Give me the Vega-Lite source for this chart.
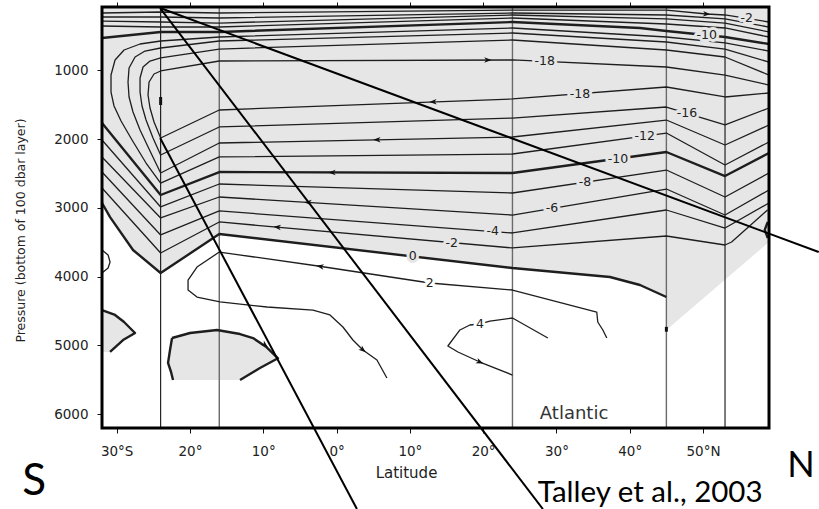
{
  "$schema": "https://vega.github.io/schema/vega-lite/v6.json",
  "width": 667,
  "height": 421,
  "autosize": {"type": "none"},
  "padding": {"left": 102, "top": 7, "right": 50, "bottom": 81},
  "background": "white",
  "config": {
    "view": {"stroke": null},
    "font": "DejaVu Sans"
  },
  "datasets": {
    "shade": [
      {"id": "main", "i": 0, "lat": -32, "p": 80}, {"id": "main", "i": 1, "lat": 59, "p": 80},
      {"id": "main", "i": 2, "lat": 59, "p": 3496}, {"id": "main", "i": 3, "lat": 45, "p": 4775},
      {"id": "main", "i": 4, "lat": 45, "p": 4296}, {"id": "main", "i": 5, "lat": 41.4, "p": 4121},
      {"id": "main", "i": 6, "lat": 37.3, "p": 4005}, {"id": "main", "i": 7, "lat": 24, "p": 3874},
      {"id": "main", "i": 8, "lat": -16, "p": 3380}, {"id": "main", "i": 9, "lat": -24, "p": 3947},
      {"id": "main", "i": 10, "lat": -27.77, "p": 3612}, {"id": "main", "i": 11, "lat": -30.9, "p": 3134},
      {"id": "main", "i": 12, "lat": -32, "p": 2929},
      {"id": "isl1", "i": 0, "lat": -32, "p": 4485}, {"id": "isl1", "i": 1, "lat": -30.22, "p": 4557},
      {"id": "isl1", "i": 2, "lat": -28.99, "p": 4659}, {"id": "isl1", "i": 3, "lat": -27.77, "p": 4790},
      {"id": "isl1", "i": 4, "lat": -27.49, "p": 4819}, {"id": "isl1", "i": 5, "lat": -29.13, "p": 4921},
      {"id": "isl1", "i": 6, "lat": -30.9, "p": 5095}, {"id": "isl1", "i": 7, "lat": -32, "p": 5095},
      {"id": "isl2", "i": 0, "lat": -22.44, "p": 4892}, {"id": "isl2", "i": 1, "lat": -19.99, "p": 4819},
      {"id": "isl2", "i": 2, "lat": -16.31, "p": 4775}, {"id": "isl2", "i": 3, "lat": -13.17, "p": 4834},
      {"id": "isl2", "i": 4, "lat": -11.4, "p": 4892}, {"id": "isl2", "i": 5, "lat": -9.63, "p": 5018},
      {"id": "isl2", "i": 6, "lat": -7.99, "p": 5187}, {"id": "isl2", "i": 7, "lat": -10.45, "p": 5328},
      {"id": "isl2", "i": 8, "lat": -13.17, "p": 5502}, {"id": "isl2", "i": 9, "lat": -22.31, "p": 5502},
      {"id": "isl2", "i": 10, "lat": -22.58, "p": 5386}, {"id": "isl2", "i": 11, "lat": -22.99, "p": 5255},
      {"id": "isl2", "i": 12, "lat": -22.72, "p": 5066}
    ],
    "sections": [{"lat": -24}, {"lat": -16}, {"lat": 24}, {"lat": 45}, {"lat": 53}],
    "contours": [
      {"id": "m2u", "v": -2, "i": 0, "lat": -32, "p": 167}, {"id": "m2u", "v": -2, "i": 1, "lat": -24, "p": 153},
      {"id": "m2u", "v": -2, "i": 2, "lat": -16, "p": 167}, {"id": "m2u", "v": -2, "i": 3, "lat": 24, "p": 124},
      {"id": "m2u", "v": -2, "i": 4, "lat": 45, "p": 124}, {"id": "m2u", "v": -2, "i": 5, "lat": 50.5, "p": 182},
      {"id": "m2u", "v": -2, "i": 6, "lat": 53, "p": 196}, {"id": "m2u", "v": -2, "i": 7, "lat": 59, "p": 298},

      {"id": "m4u", "v": -4, "i": 0, "lat": -32, "p": 225}, {"id": "m4u", "v": -4, "i": 1, "lat": -24, "p": 225},
      {"id": "m4u", "v": -4, "i": 2, "lat": -16, "p": 240}, {"id": "m4u", "v": -4, "i": 3, "lat": 24, "p": 167},
      {"id": "m4u", "v": -4, "i": 4, "lat": 45, "p": 196}, {"id": "m4u", "v": -4, "i": 5, "lat": 53, "p": 254},
      {"id": "m4u", "v": -4, "i": 6, "lat": 59, "p": 371},

      {"id": "m6u", "v": -6, "i": 0, "lat": -32, "p": 284}, {"id": "m6u", "v": -6, "i": 1, "lat": -24, "p": 298},
      {"id": "m6u", "v": -6, "i": 2, "lat": -16, "p": 313}, {"id": "m6u", "v": -6, "i": 3, "lat": 24, "p": 196},
      {"id": "m6u", "v": -6, "i": 4, "lat": 45, "p": 254}, {"id": "m6u", "v": -6, "i": 5, "lat": 53, "p": 313},
      {"id": "m6u", "v": -6, "i": 6, "lat": 59, "p": 443},

      {"id": "m8u", "v": -8, "i": 0, "lat": -32, "p": 356}, {"id": "m8u", "v": -8, "i": 1, "lat": -24, "p": 371},
      {"id": "m8u", "v": -8, "i": 2, "lat": -16, "p": 371}, {"id": "m8u", "v": -8, "i": 3, "lat": 24, "p": 240},
      {"id": "m8u", "v": -8, "i": 4, "lat": 45, "p": 327}, {"id": "m8u", "v": -8, "i": 5, "lat": 53, "p": 385},
      {"id": "m8u", "v": -8, "i": 6, "lat": 59, "p": 516},

      {"id": "m10u", "v": -10, "i": 0, "lat": -32, "p": 531}, {"id": "m10u", "v": -10, "i": 1, "lat": -24, "p": 443},
      {"id": "m10u", "v": -10, "i": 2, "lat": -16, "p": 443}, {"id": "m10u", "v": -10, "i": 3, "lat": 24, "p": 298},
      {"id": "m10u", "v": -10, "i": 4, "lat": 41.4, "p": 385}, {"id": "m10u", "v": -10, "i": 5, "lat": 45, "p": 429},
      {"id": "m10u", "v": -10, "i": 6, "lat": 53, "p": 516}, {"id": "m10u", "v": -10, "i": 7, "lat": 59, "p": 618},

      {"id": "m12", "v": -12, "i": 0, "lat": 59, "p": 720}, {"id": "m12", "v": -12, "i": 1, "lat": 53, "p": 603},
      {"id": "m12", "v": -12, "i": 2, "lat": 45, "p": 516}, {"id": "m12", "v": -12, "i": 3, "lat": 24, "p": 385},
      {"id": "m12", "v": -12, "i": 4, "lat": -16, "p": 516}, {"id": "m12", "v": -12, "i": 5, "lat": -24, "p": 574},
      {"id": "m12", "v": -12, "i": 6, "lat": -26.81, "p": 618}, {"id": "m12", "v": -12, "i": 7, "lat": -28.99, "p": 705},
      {"id": "m12", "v": -12, "i": 8, "lat": -30.22, "p": 850}, {"id": "m12", "v": -12, "i": 9, "lat": -30.77, "p": 1069},
      {"id": "m12", "v": -12, "i": 10, "lat": -30.77, "p": 1316}, {"id": "m12", "v": -12, "i": 11, "lat": -30.36, "p": 1519},
      {"id": "m12", "v": -12, "i": 12, "lat": -29.4, "p": 1737}, {"id": "m12", "v": -12, "i": 13, "lat": -27.9, "p": 2013},
      {"id": "m12", "v": -12, "i": 14, "lat": -25.99, "p": 2348}, {"id": "m12", "v": -12, "i": 15, "lat": -24, "p": 2639},
      {"id": "m12", "v": -12, "i": 16, "lat": -16, "p": 2260}, {"id": "m12", "v": -12, "i": 17, "lat": 24, "p": 2217},
      {"id": "m12", "v": -12, "i": 18, "lat": 45, "p": 1912}, {"id": "m12", "v": -12, "i": 19, "lat": 53, "p": 2377},
      {"id": "m12", "v": -12, "i": 20, "lat": 59, "p": 2042},

      {"id": "m14", "v": -14, "i": 0, "lat": 59, "p": 880}, {"id": "m14", "v": -14, "i": 1, "lat": 53, "p": 691},
      {"id": "m14", "v": -14, "i": 2, "lat": 45, "p": 589}, {"id": "m14", "v": -14, "i": 3, "lat": 24, "p": 458},
      {"id": "m14", "v": -14, "i": 4, "lat": -16, "p": 574}, {"id": "m14", "v": -14, "i": 5, "lat": -24, "p": 676},
      {"id": "m14", "v": -14, "i": 6, "lat": -26.13, "p": 720}, {"id": "m14", "v": -14, "i": 7, "lat": -27.49, "p": 807},
      {"id": "m14", "v": -14, "i": 8, "lat": -28.31, "p": 967}, {"id": "m14", "v": -14, "i": 9, "lat": -28.45, "p": 1170},
      {"id": "m14", "v": -14, "i": 10, "lat": -28.31, "p": 1388}, {"id": "m14", "v": -14, "i": 11, "lat": -27.77, "p": 1606},
      {"id": "m14", "v": -14, "i": 12, "lat": -26.81, "p": 1868}, {"id": "m14", "v": -14, "i": 13, "lat": -25.45, "p": 2173},
      {"id": "m14", "v": -14, "i": 14, "lat": -24, "p": 2493}, {"id": "m14", "v": -14, "i": 15, "lat": -16, "p": 2057},
      {"id": "m14", "v": -14, "i": 16, "lat": 24, "p": 1970}, {"id": "m14", "v": -14, "i": 17, "lat": 45, "p": 1723},
      {"id": "m14", "v": -14, "i": 18, "lat": 53, "p": 2086}, {"id": "m14", "v": -14, "i": 19, "lat": 59, "p": 1795},

      {"id": "m16", "v": -16, "i": 0, "lat": 59, "p": 1069}, {"id": "m16", "v": -16, "i": 1, "lat": 53, "p": 807},
      {"id": "m16", "v": -16, "i": 2, "lat": 45, "p": 705}, {"id": "m16", "v": -16, "i": 3, "lat": 24, "p": 560},
      {"id": "m16", "v": -16, "i": 4, "lat": -16, "p": 691}, {"id": "m16", "v": -16, "i": 5, "lat": -24, "p": 821},
      {"id": "m16", "v": -16, "i": 6, "lat": -25.45, "p": 865}, {"id": "m16", "v": -16, "i": 7, "lat": -26.4, "p": 952},
      {"id": "m16", "v": -16, "i": 8, "lat": -26.81, "p": 1112}, {"id": "m16", "v": -16, "i": 9, "lat": -26.81, "p": 1316},
      {"id": "m16", "v": -16, "i": 10, "lat": -26.54, "p": 1519}, {"id": "m16", "v": -16, "i": 11, "lat": -25.99, "p": 1723},
      {"id": "m16", "v": -16, "i": 12, "lat": -25.04, "p": 1984}, {"id": "m16", "v": -16, "i": 13, "lat": -24, "p": 2231},
      {"id": "m16", "v": -16, "i": 14, "lat": -16, "p": 1824}, {"id": "m16", "v": -16, "i": 15, "lat": 24, "p": 1694},
      {"id": "m16", "v": -16, "i": 16, "lat": 45, "p": 1534}, {"id": "m16", "v": -16, "i": 17, "lat": 53, "p": 1795},
      {"id": "m16", "v": -16, "i": 18, "lat": 59, "p": 1548},

      {"id": "m18", "v": -18, "i": 0, "lat": 59, "p": 1214}, {"id": "m18", "v": -18, "i": 1, "lat": 53, "p": 1069},
      {"id": "m18", "v": -18, "i": 2, "lat": 45, "p": 952}, {"id": "m18", "v": -18, "i": 3, "lat": 24, "p": 850},
      {"id": "m18", "v": -18, "i": 4, "lat": -16, "p": 865}, {"id": "m18", "v": -18, "i": 5, "lat": -24, "p": 1010},
      {"id": "m18", "v": -18, "i": 6, "lat": -24.9, "p": 1054}, {"id": "m18", "v": -18, "i": 7, "lat": -25.58, "p": 1170},
      {"id": "m18", "v": -18, "i": 8, "lat": -25.72, "p": 1359}, {"id": "m18", "v": -18, "i": 9, "lat": -25.45, "p": 1548},
      {"id": "m18", "v": -18, "i": 10, "lat": -24.9, "p": 1752}, {"id": "m18", "v": -18, "i": 11, "lat": -24, "p": 1984},
      {"id": "m18", "v": -18, "i": 12, "lat": -16, "p": 1577}, {"id": "m18", "v": -18, "i": 13, "lat": 24, "p": 1417},
      {"id": "m18", "v": -18, "i": 14, "lat": 45, "p": 1243}, {"id": "m18", "v": -18, "i": 15, "lat": 53, "p": 1388},
      {"id": "m18", "v": -18, "i": 16, "lat": 59, "p": 1330},

      {"id": "m10l", "v": -10, "i": 0, "lat": -32, "p": 1766}, {"id": "m10l", "v": -10, "i": 1, "lat": -24, "p": 2813},
      {"id": "m10l", "v": -10, "i": 2, "lat": -16, "p": 2479}, {"id": "m10l", "v": -10, "i": 3, "lat": 24, "p": 2493},
      {"id": "m10l", "v": -10, "i": 4, "lat": 45, "p": 2188}, {"id": "m10l", "v": -10, "i": 5, "lat": 53, "p": 2537},
      {"id": "m10l", "v": -10, "i": 6, "lat": 59, "p": 2202},

      {"id": "m8l", "v": -8, "i": 0, "lat": -32, "p": 2013}, {"id": "m8l", "v": -8, "i": 1, "lat": -24, "p": 2987},
      {"id": "m8l", "v": -8, "i": 2, "lat": -16, "p": 2653}, {"id": "m8l", "v": -8, "i": 3, "lat": 24, "p": 2784},
      {"id": "m8l", "v": -8, "i": 4, "lat": 45, "p": 2450}, {"id": "m8l", "v": -8, "i": 5, "lat": 53, "p": 2842},
      {"id": "m8l", "v": -8, "i": 6, "lat": 59, "p": 2493},

      {"id": "m6l", "v": -6, "i": 0, "lat": -32, "p": 2261}, {"id": "m6l", "v": -6, "i": 1, "lat": -24, "p": 3147},
      {"id": "m6l", "v": -6, "i": 2, "lat": -16, "p": 2842}, {"id": "m6l", "v": -6, "i": 3, "lat": 24, "p": 3104},
      {"id": "m6l", "v": -6, "i": 4, "lat": 45, "p": 2726}, {"id": "m6l", "v": -6, "i": 5, "lat": 53, "p": 3104},
      {"id": "m6l", "v": -6, "i": 6, "lat": 59, "p": 2740},

      {"id": "m4l", "v": -4, "i": 0, "lat": -32, "p": 2479}, {"id": "m4l", "v": -4, "i": 1, "lat": -24, "p": 3394},
      {"id": "m4l", "v": -4, "i": 2, "lat": -16, "p": 3045}, {"id": "m4l", "v": -4, "i": 3, "lat": 24, "p": 3365},
      {"id": "m4l", "v": -4, "i": 4, "lat": 45, "p": 3031}, {"id": "m4l", "v": -4, "i": 5, "lat": 53, "p": 3293},
      {"id": "m4l", "v": -4, "i": 6, "lat": 59, "p": 2929},

      {"id": "m2l", "v": -2, "i": 0, "lat": -32, "p": 2711}, {"id": "m2l", "v": -2, "i": 1, "lat": -24, "p": 3656},
      {"id": "m2l", "v": -2, "i": 2, "lat": -16, "p": 3205}, {"id": "m2l", "v": -2, "i": 3, "lat": 24, "p": 3583},
      {"id": "m2l", "v": -2, "i": 4, "lat": 45, "p": 3409}, {"id": "m2l", "v": -2, "i": 5, "lat": 53, "p": 3540},
      {"id": "m2l", "v": -2, "i": 6, "lat": 53.9, "p": 3496}, {"id": "m2l", "v": -2, "i": 7, "lat": 58.8, "p": 3031},

      {"id": "z0", "v": 0, "i": 0, "lat": -32, "p": 2929}, {"id": "z0", "v": 0, "i": 1, "lat": -30.9, "p": 3134},
      {"id": "z0", "v": 0, "i": 2, "lat": -27.77, "p": 3612}, {"id": "z0", "v": 0, "i": 3, "lat": -24, "p": 3947},
      {"id": "z0", "v": 0, "i": 4, "lat": -16, "p": 3380}, {"id": "z0", "v": 0, "i": 5, "lat": 24, "p": 3874},
      {"id": "z0", "v": 0, "i": 6, "lat": 37.3, "p": 4005}, {"id": "z0", "v": 0, "i": 7, "lat": 41.4, "p": 4121},
      {"id": "z0", "v": 0, "i": 8, "lat": 45, "p": 4296},

      {"id": "z0a", "v": 0, "i": 0, "lat": -32, "p": 4485}, {"id": "z0a", "v": 0, "i": 1, "lat": -30.22, "p": 4557},
      {"id": "z0a", "v": 0, "i": 2, "lat": -28.99, "p": 4659}, {"id": "z0a", "v": 0, "i": 3, "lat": -27.77, "p": 4790},
      {"id": "z0a", "v": 0, "i": 4, "lat": -27.49, "p": 4819}, {"id": "z0a", "v": 0, "i": 5, "lat": -29.13, "p": 4921},
      {"id": "z0a", "v": 0, "i": 6, "lat": -30.9, "p": 5095},

      {"id": "z0b", "v": 0, "i": 0, "lat": -22.44, "p": 4892}, {"id": "z0b", "v": 0, "i": 1, "lat": -19.99, "p": 4819},
      {"id": "z0b", "v": 0, "i": 2, "lat": -16.31, "p": 4775}, {"id": "z0b", "v": 0, "i": 3, "lat": -13.17, "p": 4834},
      {"id": "z0b", "v": 0, "i": 4, "lat": -11.4, "p": 4892}, {"id": "z0b", "v": 0, "i": 5, "lat": -9.63, "p": 5018},
      {"id": "z0b", "v": 0, "i": 6, "lat": -7.99, "p": 5187}, {"id": "z0b", "v": 0, "i": 7, "lat": -10.45, "p": 5328},
      {"id": "z0b", "v": 0, "i": 8, "lat": -13.17, "p": 5502},

      {"id": "z0c", "v": 0, "i": 0, "lat": -22.44, "p": 4892}, {"id": "z0c", "v": 0, "i": 1, "lat": -22.72, "p": 5066},
      {"id": "z0c", "v": 0, "i": 2, "lat": -22.99, "p": 5255}, {"id": "z0c", "v": 0, "i": 3, "lat": -22.58, "p": 5386},
      {"id": "z0c", "v": 0, "i": 4, "lat": -22.31, "p": 5502},

      {"id": "z0d", "v": 0, "i": 0, "lat": 58.83, "p": 3205}, {"id": "z0d", "v": 0, "i": 1, "lat": 58.42, "p": 3321},
      {"id": "z0d", "v": 0, "i": 2, "lat": 58.83, "p": 3438},

      {"id": "p2a", "v": 2, "i": 0, "lat": 36.87, "p": 4892}, {"id": "p2a", "v": 2, "i": 1, "lat": 36.33, "p": 4775},
      {"id": "p2a", "v": 2, "i": 2, "lat": 35.64, "p": 4659}, {"id": "p2a", "v": 2, "i": 3, "lat": 35.5, "p": 4514},
      {"id": "p2a", "v": 2, "i": 4, "lat": 24, "p": 4194}, {"id": "p2a", "v": 2, "i": 5, "lat": 12.73, "p": 4092},
      {"id": "p2a", "v": 2, "i": 6, "lat": -2.54, "p": 3845}, {"id": "p2a", "v": 2, "i": 7, "lat": -16, "p": 3642},
      {"id": "p2a", "v": 2, "i": 8, "lat": -19.04, "p": 3860}, {"id": "p2a", "v": 2, "i": 9, "lat": -20.26, "p": 4049},
      {"id": "p2a", "v": 2, "i": 10, "lat": -20.26, "p": 4194}, {"id": "p2a", "v": 2, "i": 11, "lat": -19.04, "p": 4296},
      {"id": "p2a", "v": 2, "i": 12, "lat": -15.9, "p": 4368}, {"id": "p2a", "v": 2, "i": 13, "lat": -9.49, "p": 4441},
      {"id": "p2a", "v": 2, "i": 14, "lat": -3.22, "p": 4485}, {"id": "p2a", "v": 2, "i": 15, "lat": -0.9, "p": 4557},
      {"id": "p2a", "v": 2, "i": 16, "lat": 0.87, "p": 4732}, {"id": "p2a", "v": 2, "i": 17, "lat": 2.23, "p": 4921},
      {"id": "p2a", "v": 2, "i": 18, "lat": 3.6, "p": 5066}, {"id": "p2a", "v": 2, "i": 19, "lat": 5.51, "p": 5212},
      {"id": "p2a", "v": 2, "i": 20, "lat": 6.87, "p": 5473},

      {"id": "p2b", "v": 2, "i": 0, "lat": -32, "p": 3612}, {"id": "p2b", "v": 2, "i": 1, "lat": -31.17, "p": 3685},
      {"id": "p2b", "v": 2, "i": 2, "lat": -30.9, "p": 3787}, {"id": "p2b", "v": 2, "i": 3, "lat": -31.17, "p": 3874},
      {"id": "p2b", "v": 2, "i": 4, "lat": -32, "p": 3947},

      {"id": "p4", "v": 4, "i": 0, "lat": 28.83, "p": 4892}, {"id": "p4", "v": 4, "i": 1, "lat": 24, "p": 4601},
      {"id": "p4", "v": 4, "i": 2, "lat": 20.92, "p": 4645}, {"id": "p4", "v": 4, "i": 3, "lat": 19.56, "p": 4688},
      {"id": "p4", "v": 4, "i": 4, "lat": 18.19, "p": 4703}, {"id": "p4", "v": 4, "i": 5, "lat": 16.83, "p": 4775},
      {"id": "p4", "v": 4, "i": 6, "lat": 15.19, "p": 5008}, {"id": "p4", "v": 4, "i": 7, "lat": 16.56, "p": 5095},
      {"id": "p4", "v": 4, "i": 8, "lat": 19.56, "p": 5241}, {"id": "p4", "v": 4, "i": 9, "lat": 24, "p": 5430}
    ],
    "arrows": [
      {"lat": 20.65, "p": 851, "dir": 0},
      {"lat": 13.15, "p": 1460, "dir": 178},
      {"lat": 5.5, "p": 2010, "dir": 179},
      {"lat": -0.63, "p": 2485, "dir": 180},
      {"lat": -3.9, "p": 2921, "dir": 183},
      {"lat": -8.1, "p": 3280, "dir": 185},
      {"lat": -2.25, "p": 3850, "dir": 189},
      {"lat": 50.5, "p": 182, "dir": 5},
      {"lat": -9.76, "p": 4993, "dir": 39},
      {"lat": 3.6, "p": 5066, "dir": 40},
      {"lat": 19.56, "p": 5241, "dir": 23}
    ],
    "labels": [
      {"lat": 55.96, "p": 240, "v": -2},
      {"lat": 50.5, "p": 489, "v": -10},
      {"lat": 28.4, "p": 871, "v": -18},
      {"lat": 33.2, "p": 1345, "v": -18},
      {"lat": 47.8, "p": 1625, "v": -16},
      {"lat": 42.05, "p": 1955, "v": -12},
      {"lat": 38.4, "p": 2284, "v": -10},
      {"lat": 33.9, "p": 2627, "v": -8},
      {"lat": 29.4, "p": 3007, "v": -6},
      {"lat": 21.3, "p": 3343, "v": -4},
      {"lat": 15.7, "p": 3505, "v": -2},
      {"lat": 10.4, "p": 3706, "v": 0},
      {"lat": 12.7, "p": 4092, "v": 2},
      {"lat": 19.56, "p": 4688, "v": 4}
    ],
    "dashes": [
      {"lat": -24, "p": 1388, "p2": 1505},
      {"lat": 45, "p": 4730, "p2": 4800}
    ],
    "pointers": [
      {"id": "g1", "i": 0, "lat": -24.07, "p": 95}, {"id": "g1", "i": 1, "lat": 65.78, "p": 3642},
      {"id": "g2", "i": 0, "lat": -24.07, "p": 95}, {"id": "g2", "i": 1, "lat": 28.15, "p": 7378},
      {"id": "g3", "i": 0, "lat": -24.07, "p": 1984}, {"id": "g3", "i": 1, "lat": 2.78, "p": 7378}
    ]
  },
  "encoding": {
    "x": {"field": "lat", "type": "quantitative", "scale": {"domain": [-32, 59], "nice": false, "zero": false}, "axis": null},
    "y": {
      "field": "p", "type": "quantitative",
      "scale": {"domain": [80, 6200], "nice": false, "zero": false, "reverse": true},
      "axis": {
        "values": [1000, 2000, 3000, 4000, 5000, 6000], "format": "d",
        "title": "Pressure (bottom of 100 dbar layer)",
        "domain": false, "grid": false, "tickSize": 5, "tickColor": "#111",
        "labelFontSize": 13.5, "labelColor": "#222", "labelPadding": 9,
        "titleFontSize": 12.5, "titleFontWeight": "normal", "titleColor": "#222",
        "titleX": -78, "titleY": 223, "titleAngle": -90, "titleAlign": "center", "titleBaseline": "alphabetic"
      }
    }
  },
  "layer": [
    {
      "data": {"name": "shade"},
      "mark": {"type": "line", "filled": true, "color": "#e6e6e6", "strokeWidth": 0, "interpolate": "linear-closed"},
      "encoding": {
        "x": {
          "field": "lat", "type": "quantitative", "scale": {"domain": [-32, 59], "nice": false, "zero": false},
          "axis": {
            "orient": "bottom", "values": [-30, -20, -10, 0, 10, 20, 30, 40, 50],
            "labelExpr": "datum.value == -30 ? '30°S' : (datum.value == 50 ? '50°N' : abs(datum.value) + '°')",
            "title": "Latitude", "domain": false, "grid": false, "tickSize": 5, "tickColor": "#111",
            "labelFontSize": 13.5, "labelColor": "#222", "labelPadding": 11,
            "titleFontSize": 15, "titleFontWeight": "normal", "titleColor": "#222",
            "titleX": 304, "titleY": 49, "titleAlign": "center", "titleBaseline": "alphabetic"
          }
        },
        "detail": {"field": "id"},
        "order": {"field": "i", "type": "quantitative"}
      }
    },
    {
      "data": {"name": "sections"},
      "mark": {"type": "rule"},
      "encoding": {
        "x": {
          "field": "lat", "type": "quantitative", "scale": {"domain": [-32, 59], "nice": false, "zero": false},
          "axis": {"orient": "top", "values": [-30, -20, -10, 0, 10, 20, 30, 40, 50], "labels": false, "title": null, "domain": false, "grid": false, "tickSize": 5, "tickColor": "#111"}
        },
        "y": null,
        "color": {"condition": {"test": "datum.lat == -24 || datum.lat == 53", "value": "#111"}, "value": "#6a6a6a"},
        "strokeWidth": {"condition": {"test": "datum.lat == -24 || datum.lat == 53", "value": 1.1}, "value": 1.4}
      }
    },
    {
      "data": {"name": "contours"},
      "mark": {"type": "line", "color": "#1e1e1e", "interpolate": "linear", "strokeJoin": "round"},
      "encoding": {
        "detail": {"field": "id"},
        "order": {"field": "i", "type": "quantitative"},
        "strokeWidth": {"condition": {"test": "datum.v % 10 == 0", "value": 2.4}, "value": 1.3}
      }
    },
    {
      "data": {"name": "dashes"},
      "mark": {"type": "rule", "color": "#111", "strokeWidth": 3},
      "encoding": {"y2": {"field": "p2"}}
    },
    {
      "data": {"name": "arrows"},
      "mark": {"type": "point", "shape": "M1,0L-1,-0.75L-0.45,0L-1,0.75Z", "filled": true, "color": "#111", "size": 55, "opacity": 1},
      "encoding": {"angle": {"field": "dir", "type": "quantitative", "scale": null}}
    },
    {
      "data": {"name": "labels"},
      "mark": {"type": "text", "font": "DejaVu Sans", "fontSize": 12.5, "align": "center", "baseline": "middle", "strokeWidth": 6, "strokeJoin": "round"},
      "encoding": {
        "text": {"field": "v", "type": "nominal"},
        "color": {"condition": {"test": "datum.v > 0", "value": "white"}, "value": "#e6e6e6"},
        "stroke": {"condition": {"test": "datum.v > 0", "value": "white"}, "value": "#e6e6e6"}
      }
    },
    {
      "data": {"name": "labels"},
      "mark": {"type": "text", "font": "DejaVu Sans", "fontSize": 12.5, "align": "center", "baseline": "middle", "color": "#222"},
      "encoding": {"text": {"field": "v", "type": "nominal"}}
    },
    {
      "data": {"values": [{"txt": "Atlantic", "lat": 27.74, "p": 6069}]},
      "mark": {"type": "text", "font": "DejaVu Sans", "fontSize": 18, "align": "left", "baseline": "alphabetic", "color": "#333"},
      "encoding": {"text": {"field": "txt"}}
    },
    {
      "data": {"values": [{"lat": -32, "lat2": 59, "p": 80, "p2": 6200}]},
      "mark": {"type": "rect", "filled": false, "color": "black", "strokeWidth": 3},
      "encoding": {"x2": {"field": "lat2"}, "y2": {"field": "p2"}}
    },
    {
      "data": {"name": "pointers"},
      "mark": {"type": "line", "color": "black", "strokeWidth": 2},
      "encoding": {
        "detail": {"field": "id"},
        "order": {"field": "i", "type": "quantitative"}
      }
    },
    {
      "data": {"values": [{"txt": "S", "lat": -42.87, "p": 7174}]},
      "mark": {"type": "text", "font": "Lato", "fontSize": 44, "align": "left", "baseline": "alphabetic", "color": "black"},
      "encoding": {"text": {"field": "txt"}}
    },
    {
      "data": {"values": [{"txt": "N", "lat": 61.5, "p": 6912}]},
      "mark": {"type": "text", "font": "Lato", "fontSize": 36, "align": "left", "baseline": "alphabetic", "color": "black"},
      "encoding": {"text": {"field": "txt"}}
    },
    {
      "data": {"values": [{"txt": "Talley et al., 2003", "lat": 27.46, "p": 7276}]},
      "mark": {"type": "text", "font": "Lato", "fontSize": 29.5, "align": "left", "baseline": "alphabetic", "color": "black"},
      "encoding": {"text": {"field": "txt"}}
    }
  ]
}
